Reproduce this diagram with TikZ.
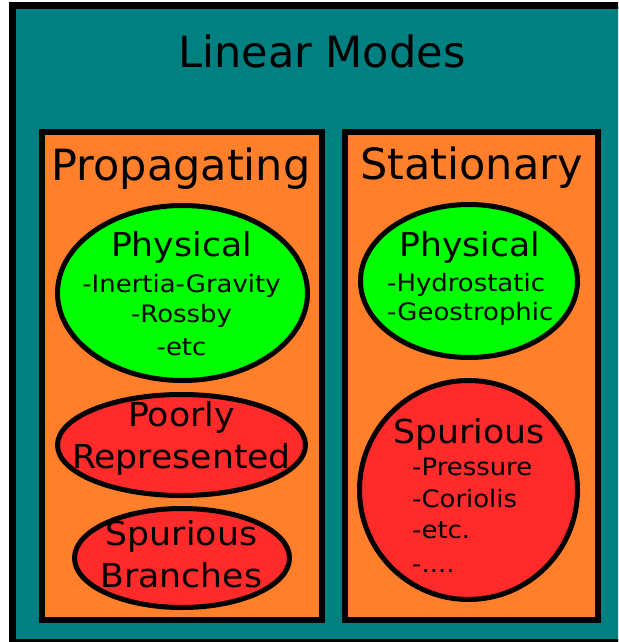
\documentclass[tikz,border=0pt]{standalone}
\usepackage{fontspec}
\setmainfont{DejaVu Sans}
% slightly widened cuts for the text inside the ovals
\newfontfamily\headfont[FakeStretch=1.05]{DejaVu Sans}
\newfontfamily\itemfont[FakeStretch=1.08]{DejaVu Sans}
\usetikzlibrary{shapes.geometric}

\definecolor{tealbg}{HTML}{008080}
\definecolor{panelorange}{HTML}{FF7F2A}
\definecolor{physgreen}{HTML}{00FF00}
\definecolor{spurred}{HTML}{FF2A2A}

\tikzset{
  panel/.style={draw=black, line width=6pt, fill=panelorange, inner sep=0pt},
  mode/.style={ellipse, draw=black, line width=5pt, inner sep=0pt},
  goodmode/.style={mode, fill=physgreen},
  badmode/.style={mode, fill=spurred},
  maintitle/.style={anchor=base, inner sep=0pt, font=\fontsize{43}{43}\selectfont},
  paneltitle/.style={anchor=base, inner sep=0pt, font=\fontsize{43}{43}\selectfont},
  modehead/.style={anchor=base, inner sep=0pt, font=\headfont\fontsize{33}{33}\selectfont},
  modeitem/.style={anchor=base, inner sep=0pt, font=\itemfont\fontsize{24}{24}\selectfont},
  modeitemleft/.style={modeitem, anchor=base west},
}

\begin{document}
\begin{tikzpicture}[x=1pt, y=-1pt]
  \useasboundingbox (0,0) rectangle (618,642);
  \clip (0,0) rectangle (618,642);

  % outer frame
  \draw[line width=7pt, fill=tealbg] (12.5,5.5) rectangle (630,642.5);
  \node[maintitle] (title) at (322,67) {Linear Modes};

  % the two panels
  \node[panel, minimum width=280pt, minimum height=488pt] (prop) at (182,376) {};
  \node[panel, minimum width=253pt, minimum height=488pt] (stat) at (471,376) {};
  \node[paneltitle] (propt) at (181,180) {Propagating};
  \node[paneltitle] (statt) at (471.5,179) {Stationary};

  % propagating modes
  \node[goodmode, minimum width=250pt, minimum height=175pt] (pphys) at (182.5,293) {};
  \node[modehead] (pphysh) at (181.5,256) {Physical};
  \node[modeitem] (pig) at (181.5,292) {-Inertia-Gravity};
  \node[modeitem] (pros) at (181.5,322) {-Rossby};
  \node[modeitem] (petc) at (181.5,355) {-etc};

  \node[badmode, minimum width=248pt, minimum height=101pt] (ppoor) at (181.5,445) {};
  \node[modehead] (ppoor1) at (181.5,426) {Poorly};
  \node[modehead] (ppoor2) at (181.5,468) {Represented};

  \node[badmode, minimum width=215pt, minimum height=99pt] (pspur) at (182,558) {};
  \node[modehead] (pspur1) at (181.5,545) {Spurious};
  \node[modehead] (pspur2) at (181.5,587) {Branches};

  % stationary modes
  \node[goodmode, minimum width=217pt, minimum height=153pt] (sphys) at (469,281) {};
  \node[modehead] (sphysh) at (470,256) {Physical};
  \node[modeitemleft] (shyd) at (387,291) {-Hydrostatic};
  \node[modeitemleft] (sgeo) at (387,320) {-Geostrophic};

  \node[badmode, minimum width=218pt, minimum height=219pt] (sspur) at (468.5,490) {};
  \node[modehead] (sspurh) at (469,443) {Spurious};
  \node[modeitemleft] (spre) at (412,475) {-Pressure};
  \node[modeitemleft] (scor) at (412,507) {-Coriolis};
  \node[modeitemleft] (setc) at (412,538) {-etc.};
  \node[modeitemleft] (sdots) at (412,572) {-....};
\end{tikzpicture}
\end{document}
